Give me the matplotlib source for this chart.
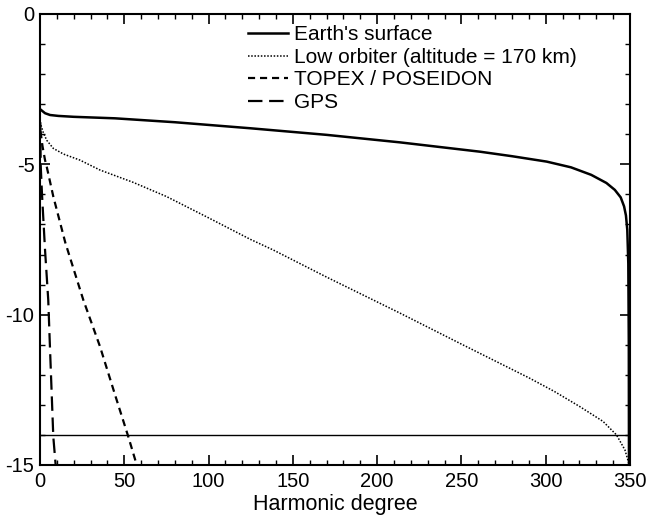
import numpy as np
import matplotlib.pyplot as plt
from matplotlib.ticker import MultipleLocator

plt.rcParams['font.family'] = ['Liberation Sans', 'DejaVu Sans']

# values
earth_x = [0.6, 3, 6, 10.9, 20, 44.5, 80, 124.6, 170, 213.6, 261, 280, 300.6, 315, 327, 336, 341, 344.5, 346.5, 347.6, 348.4, 349.0, 349.3, 349.4]
earth_y = [-3.19, -3.30, -3.36, -3.39, -3.42, -3.47, -3.60, -3.80, -4.02, -4.27, -4.58, -4.73, -4.91, -5.10, -5.35, -5.62, -5.85, -6.10, -6.40, -6.70, -7.18, -8.3, -11.0, -15.0]

low_x = [0.6, 2, 4, 7.9, 14, 23.7, 35.6, 55.3, 75, 100, 124.6, 138.4, 170, 213.6, 250, 290, 305, 320, 334, 342, 347, 349.6]
low_y = [-3.70, -3.95, -4.20, -4.47, -4.66, -4.86, -5.19, -5.60, -6.07, -6.78, -7.49, -7.85, -8.75, -9.95, -10.98, -12.10, -12.55, -13.05, -13.55, -14.0, -14.5, -15.0]

topex_x = [0.3, 1.5, 3, 4, 7.9, 15, 25.7, 35.6, 45, 52.4, 57.4]
topex_y = [-3.9, -4.4, -4.86, -5.08, -6.07, -7.6, -9.51, -11.06, -12.75, -14.06, -15.0]

gps_x = [0.2, 0.4, 1.2, 3.0, 4.9, 5.9, 7.9, 9.3]
gps_y = [-3.6, -5.0, -6.0, -7.85, -9.51, -11.06, -14.06, -15.0]

ref_level = -14.0
labels = ["Earth's surface", "Low orbiter (altitude = 170 km)", "TOPEX / POSEIDON", "GPS"]

fig = plt.figure(figsize=(6.48, 5.2), dpi=100)
ax = fig.add_axes([0.0617, 0.1058, 0.9105, 0.8673])

ax.plot(earth_x, earth_y, color='black', lw=1.8, label=labels[0])
ax.plot(low_x, low_y, color='black', lw=1.1, dashes=(1, 1.1), label=labels[1])
ax.plot(topex_x, topex_y, color='black', lw=1.6, dashes=(3.2, 2.2), label=labels[2])
ax.plot(gps_x, gps_y, color='black', lw=1.6, dashes=(6.5, 3), label=labels[3])
ax.axhline(ref_level, color='black', lw=1.0)

ax.set_xlim(0, 350)
ax.set_ylim(-15, 0)
ax.set_xticks([0, 50, 100, 150, 200, 250, 300, 350])
ax.set_yticks([0, -5, -10, -15])
ax.set_yticklabels(['0', '-5', '-10', '-15'])
ax.xaxis.set_minor_locator(MultipleLocator(10))
ax.yaxis.set_minor_locator(MultipleLocator(1))
ax.tick_params(which='both', direction='in', top=True, right=True, labelsize=14.5)
ax.tick_params(which='major', length=7, width=1.2)
ax.tick_params(which='minor', length=3.5, width=1.0)
ax.tick_params(axis='x', pad=5)
ax.tick_params(axis='y', pad=4)
for s in ax.spines.values():
    s.set_linewidth(1.5)

ax.set_xlabel('Harmonic degree', fontsize=15.5, labelpad=2)

ax.legend(loc='upper left', bbox_to_anchor=(0.3525, 0.975), frameon=False, fontsize=15,
          handlelength=1.9, handletextpad=0.3, labelspacing=0.17, borderaxespad=0,
          borderpad=0)

fig.savefig('out.png', dpi=100)
